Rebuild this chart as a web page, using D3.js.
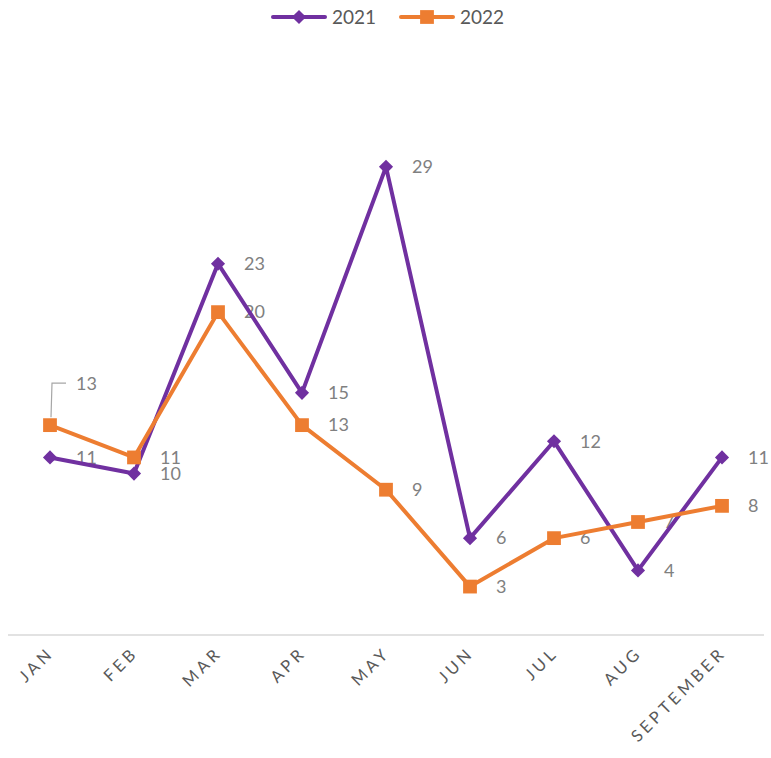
<!DOCTYPE html>
<html>
<head>
<meta charset="utf-8">
<script src="https://cdn.jsdelivr.net/npm/d3@7"></script>
<style>
  body { margin: 0; background: #fff; }
  text { font-family: Lato, "Open Sans", sans-serif; }
</style>
</head>
<body>
<script>
// chart data
var months = ['JAN', 'FEB', 'MAR', 'APR', 'MAY', 'JUN', 'JUL', 'AUG', 'SEPTEMBER'];
var values2021 = [11, 10, 23, 15, 29, 6, 12, 4, 11];
var values2022 = [13, 11, 20, 13, 9, 3, 6, 7, 8];
var seriesNames = ['2021', '2022'];

var width = 771;
var height = 758;

var svg = d3.select('body').append('svg')
  .attr('width', width)
  .attr('height', height);

var x = d3.scaleBand().domain(months).range([8, 764]);
var y = d3.scaleLinear().domain([0, 35]).range([635, 70]);

var cx = function (m) { return x(m) + x.bandwidth() / 2; };

var series = [
  { name: seriesNames[0], values: values2021, color: '#7030A0', shape: 'diamond' },
  { name: seriesNames[1], values: values2022, color: '#ED7D31', shape: 'square' }
];

// x axis line
svg.append('line')
  .attr('x1', 8).attr('x2', 764)
  .attr('y1', y(0)).attr('y2', y(0))
  .attr('stroke', '#d9d9d9')
  .attr('stroke-width', 1.5);

// month labels, rotated
svg.selectAll('text.month').data(months)
  .enter()
  .append('text')
  .attr('class', 'month')
  .attr('transform', function (d) { return 'translate(' + (cx(d) + 5) + ',' + 654 + ') rotate(-45)'; })
  .attr('text-anchor', 'end')
  .attr('font-size', 16.5)
  .attr('letter-spacing', 3.6)
  .attr('fill', '#595959')
  .text(function (d) { return d; });

// data labels (drawn under the lines, like the original)
series.forEach(function (s) {
  svg.selectAll(null).data(s.values)
    .enter()
    .append('text')
    .attr('x', function (d, i) { return cx(months[i]) + 26; })
    .attr('y', function (d, i) {
      // first 2022 label was pulled up with a leader line
      if (s.name === '2022' && i === 0) return y(d) - 41;
      return y(d);
    })
    .attr('dy', '0.35em')
    .attr('font-size', 18)
    .attr('fill', '#808080')
    .text(function (d) { return d; });
});

// leader line for the moved JAN 2022 label
svg.append('path')
  .attr('d', 'M' + (cx(months[0]) + 1) + ',' + (y(values2022[0]) - 8) +
             ' L' + (cx(months[0]) + 2) + ',' + (y(values2022[0]) - 42) +
             ' L' + (cx(months[0]) + 16) + ',' + (y(values2022[0]) - 42))
  .attr('fill', 'none')
  .attr('stroke', '#a6a6a6')
  .attr('stroke-width', 1.2);

var line = d3.line()
  .x(function (d, i) { return cx(months[i]); })
  .y(function (d) { return y(d); });

var symbolFor = function (shape) {
  return d3.symbol().type(d3.symbolSquare).size(shape === 'diamond' ? 100 : 190);
};

series.forEach(function (s) {
  svg.append('path')
    .datum(s.values)
    .attr('d', line)
    .attr('fill', 'none')
    .attr('stroke', s.color)
    .attr('stroke-width', 4)
    .attr('stroke-linejoin', 'round');

  svg.selectAll(null).data(s.values)
    .enter()
    .append('path')
    .attr('d', symbolFor(s.shape))
    .attr('transform', function (d, i) {
      return 'translate(' + cx(months[i]) + ',' + y(d) + ')' + (s.shape === 'diamond' ? ' rotate(45)' : '');
    })
    .attr('fill', s.color);
});

// legend
var legend = svg.append('g');
var legendItems = [
  { x: 273, s: series[0] },
  { x: 401, s: series[1] }
];
legendItems.forEach(function (it) {
  var g = legend.append('g').attr('transform', 'translate(' + it.x + ',17)');
  g.append('line')
    .attr('x1', 0).attr('x2', 52)
    .attr('stroke', it.s.color)
    .attr('stroke-width', 4)
    .attr('stroke-linecap', 'round');
  g.append('path')
    .attr('d', symbolFor(it.s.shape))
    .attr('transform', 'translate(26,0)' + (it.s.shape === 'diamond' ? ' rotate(45)' : ''))
    .attr('fill', it.s.color);
  g.append('text')
    .attr('x', 59)
    .attr('dy', '0.35em')
    .attr('font-size', 19)
    .attr('fill', '#595959')
    .text(it.s.name);
});
</script>
</body>
</html>
